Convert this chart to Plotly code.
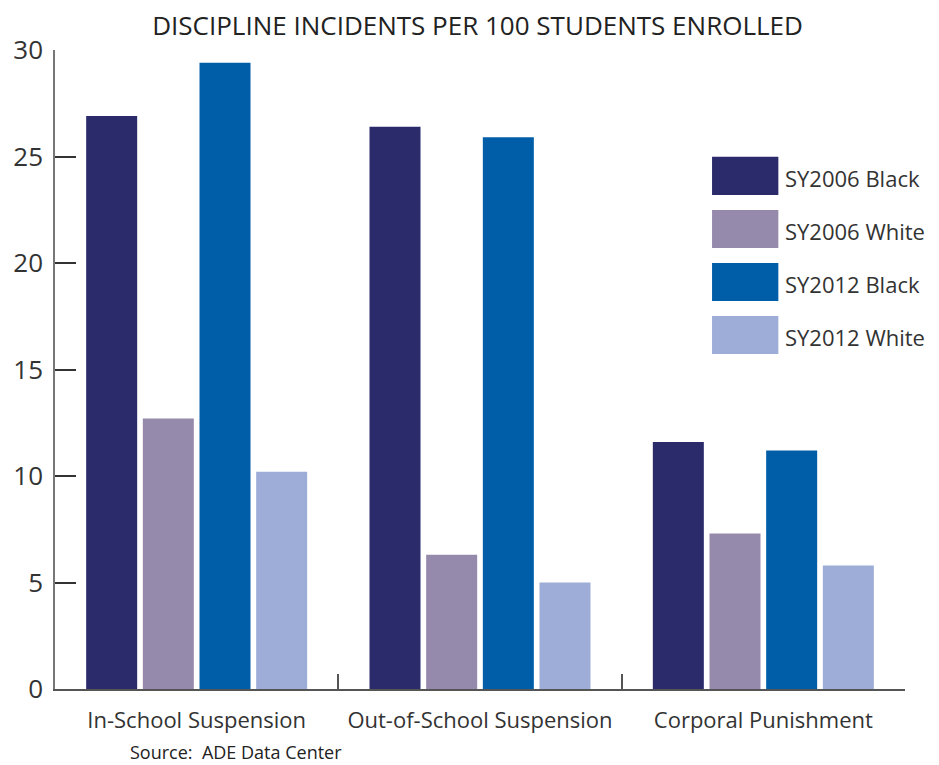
import plotly.graph_objects as go

categories = ["In-School Suspension", "Out-of-School Suspension", "Corporal Punishment"]
series_names = ["SY2006 Black", "SY2006 White", "SY2012 Black", "SY2012 White"]
sy2006_black = [26.9, 26.4, 11.6]
sy2006_white = [12.7, 6.3, 7.3]
sy2012_black = [29.4, 25.9, 11.2]
sy2012_white = [10.2, 5.0, 5.8]
series_values = [sy2006_black, sy2006_white, sy2012_black, sy2012_white]
colors = ["#2b2a6b", "#968aac", "#005da8", "#9dadd8"]
y_ticks = [0, 5, 10, 15, 20, 25, 30]

FONT = "Open Sans"
TXT = "#333333"

fig = go.Figure()
for name, vals, col in zip(series_names, series_values, colors):
    fig.add_trace(go.Bar(x=categories, y=vals, name=name, marker=dict(color=col, line=dict(width=0)),
                         showlegend=False))

# custom legend with large swatches
leg_x0, leg_x1 = 0.773, 0.851
leg_top = 0.803
leg_step = 0.083
sw_h = 0.0595
for i, (name, col) in enumerate(zip(series_names, colors)):
    yc = leg_top - i * leg_step
    fig.add_shape(type="rect", xref="paper", yref="paper", x0=leg_x0, x1=leg_x1,
                  y0=yc - sw_h / 2, y1=yc + sw_h / 2, fillcolor=col, line=dict(width=0))
    fig.add_annotation(xref="paper", yref="paper", x=0.857, y=yc - 0.003, text=name, showarrow=False,
                       xanchor="left", yanchor="middle", font=dict(family=FONT, size=22, color=TXT))

fig.add_annotation(xref="paper", yref="paper", x=0.0859, y=-0.0986, text="Source:  ADE Data Center",
                   showarrow=False, xanchor="left", yanchor="middle",
                   font=dict(family=FONT, size=18, color="#222222"))

fig.update_layout(
    width=939, height=765,
    margin=dict(l=47, r=42, t=42, b=84, autoexpand=False),
    paper_bgcolor="white", plot_bgcolor="white",
    barmode="group", bargap=0.2, bargroupgap=0.1,
    title=dict(text="DISCIPLINE INCIDENTS PER 100 STUDENTS ENROLLED", x=0.5, xanchor="center",
               y=0.977, yanchor="middle", font=dict(family=FONT, size=26, color="#222222")),
    xaxis=dict(range=[-0.5, 2.5], tickson="boundaries", ticks="inside", ticklen=15, tickwidth=2,
               tickcolor="#555555", showline=True, linecolor="#555555", linewidth=2, automargin=False,
               showgrid=False, ticklabelstandoff=11, tickfont=dict(family=FONT, size=22, color=TXT)),
    yaxis=dict(range=[0, 30], tickvals=y_ticks, ticks="inside", ticklen=21, tickwidth=1.5,
               tickcolor="#333333", showline=True, linecolor="#777777", linewidth=1.5, automargin=False,
               showgrid=False, zeroline=False, ticklabelstandoff=5,
               tickfont=dict(family=FONT, size=26, color=TXT)),
)

fig.write_html("out.html")
